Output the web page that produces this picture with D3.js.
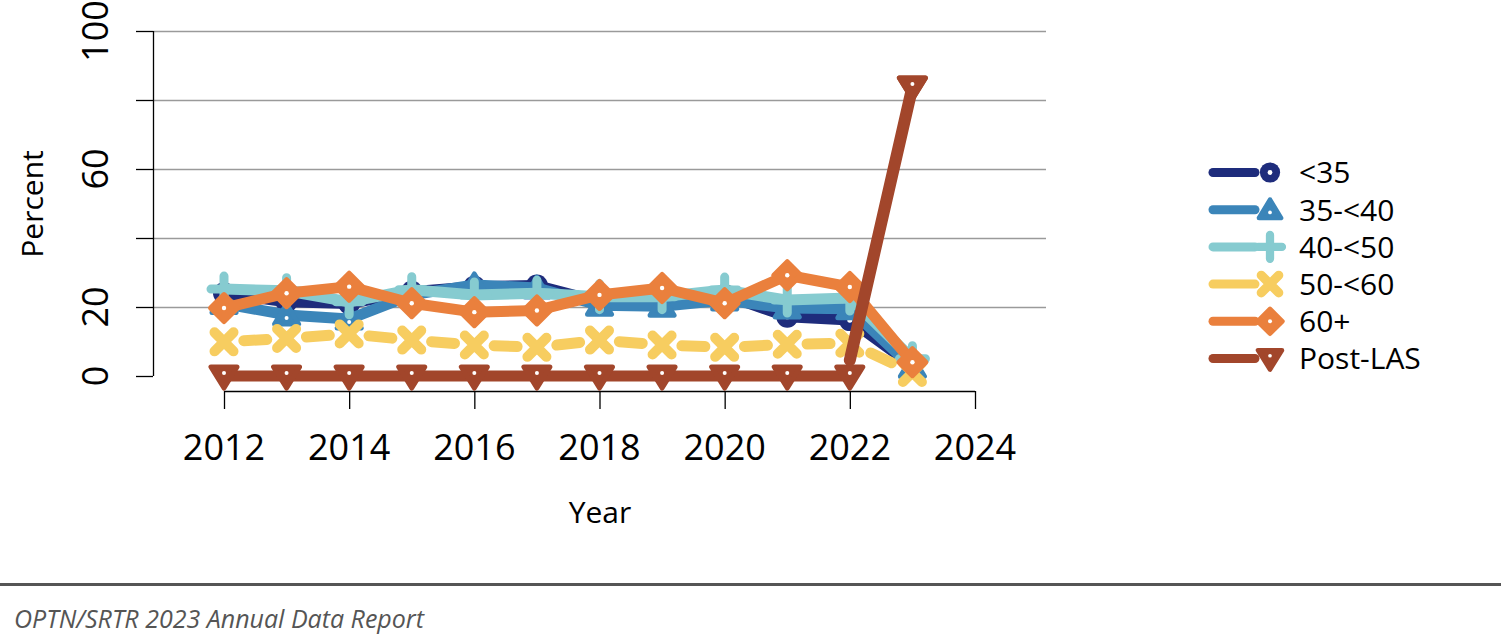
<!DOCTYPE html>
<html lang="en">
    <head>
        <meta charset="utf-8">
        <title>Lung ADR chart</title>
        <script type="text/javascript" src="https://cdn.jsdelivr.net/npm/d3@7/dist/d3.min.js"></script>
        <style>
            body { margin: 0; background: #fff; }
            text { font-family: "Open Sans", "Noto Sans", sans-serif; }
        </style>
    </head>
    <body>
        <script type="text/javascript">

        var w = 1501;
        var h = 634;

        // data
        var years = [2012, 2013, 2014, 2015, 2016, 2017, 2018, 2019, 2020, 2021, 2022, 2023];
        var lt35     = [24.0, 21.5, 21.0, 24.4, 25.9, 26.2, 21.5, 22.0, 23.5, 17.2, 16.2, 3.0];
        var r35to40  = [21.0, 17.7, 16.5, 23.5, 26.4, 25.5, 20.5, 20.2, 22.0, 19.7, 19.5, 2.5];
        var r40to50  = [25.2, 24.7, 21.5, 25.0, 23.5, 24.0, 23.0, 23.0, 24.9, 22.0, 22.6, 5.0];
        var r50to60  = [9.9, 10.9, 12.2, 10.4, 9.0, 8.3, 10.4, 9.0, 8.3, 9.2, 9.5, 1.0];
        var ge60     = [19.7, 24.0, 25.9, 21.1, 18.5, 19.0, 23.5, 25.5, 21.1, 29.2, 25.8, 4.0];
        var postLas  = [0, 0, 0, 0, 0, 0, 0, 0, 0, 0, 0, 83.8];
        var postLasLink = [[2022, 4.6], [2023, 83.8]];

        var seriesNames = ["<35", "35-<40", "40-<50", "50-<60", "60+", "Post-LAS"];
        var xTicks = [2012, 2014, 2016, 2018, 2020, 2022, 2024];
        var yTicks = [0, 20, 40, 60, 80, 100];
        var yTickLabels = [0, 20, 60, 100];

        var colors = ["#1e2c7c", "#3b85b9", "#86cbd0", "#f7cd60", "#ea803d", "#a2462b"];
        var shapes = ["circle", "triUp", "plus", "cross", "diamond", "triDown"];
        var allValues = [lt35, r35to40, r40to50, r50to60, ge60, postLas];

        var x = d3.scaleLinear().domain([2012, 2024]).range([224, 975]);
        var y = d3.scaleLinear().domain([0, 100]).range([376, 31]);

        var svg = d3.select("body")
            .append("svg")
            .attr("width", w)
            .attr("height", h);

        // grid
        svg.selectAll("line.grid")
           .data(yTicks.filter(function(d) { return d > 0; }))
           .enter()
           .append("line")
           .attr("class", "grid")
           .attr("x1", 153).attr("x2", 1046)
           .attr("y1", function(d) { return y(d) + 0.5; })
           .attr("y2", function(d) { return y(d) + 0.5; })
           .attr("stroke", "#9a9a9a")
           .attr("stroke-width", 1.3);

        // y axis
        var yAxis = svg.append("g")
            .attr("transform", "translate(153,0)")
            .call(d3.axisLeft(y).tickValues(yTicks).tickSize(17).tickFormat(""));
        yAxis.select(".domain").attr("stroke", "#000").attr("stroke-width", 1.3)
            .attr("d", "M0.5," + y(100) + "V" + y(0));
        yAxis.selectAll(".tick line").attr("stroke", "#000").attr("stroke-width", 1.3);

        svg.selectAll("text.ylab")
           .data(yTickLabels)
           .enter()
           .append("text")
           .attr("class", "ylab")
           .attr("transform", function(d) { return "translate(108," + y(d) + ") rotate(-90)"; })
           .attr("text-anchor", "middle")
           .attr("font-size", "36px")
           .attr("fill", "#000")
           .text(function(d) { return d; });

        svg.append("text")
           .attr("transform", "translate(43,204) rotate(-90)")
           .attr("text-anchor", "middle")
           .attr("font-size", "30px")
           .text("Percent");

        // x axis
        var xAxis = svg.append("g")
            .attr("transform", "translate(0,391)")
            .call(d3.axisBottom(x).tickValues(xTicks).tickSize(18).tickFormat(""));
        xAxis.select(".domain").attr("stroke", "#000").attr("stroke-width", 1.3)
            .attr("d", "M" + x(2012) + ",0.5H" + x(2024));
        xAxis.selectAll(".tick line").attr("stroke", "#000").attr("stroke-width", 1.3);

        svg.selectAll("text.xlab")
           .data(xTicks)
           .enter()
           .append("text")
           .attr("class", "xlab")
           .attr("x", function(d) { return x(d); })
           .attr("y", 460)
           .attr("text-anchor", "middle")
           .attr("font-size", "36px")
           .text(function(d) { return d; });

        svg.append("text")
           .attr("x", 600)
           .attr("y", 523)
           .attr("text-anchor", "middle")
           .attr("font-size", "30px")
           .text("Year");

        // markers
        function drawMarker(g, shape, color, cx, cy, s) {
            var m = g.append("g").attr("transform", "translate(" + cx + "," + cy + ") scale(" + s + ")");
            if (shape == "circle") {
                m.append("circle").attr("r", 11).attr("fill", color);
                m.append("circle").attr("r", 2.6).attr("fill", "#fff");
            } else if (shape == "triUp") {
                m.append("path").attr("d", "M0,-11L12,9L-12,9Z")
                 .attr("fill", color).attr("stroke", color).attr("stroke-width", 5).attr("stroke-linejoin", "round");
                m.append("circle").attr("cy", 3).attr("r", 2).attr("fill", "#fff");
            } else if (shape == "plus") {
                m.append("path").attr("d", "M-13,0H13M0,-13V13")
                 .attr("stroke", color).attr("stroke-width", 9).attr("stroke-linecap", "round");
            } else if (shape == "cross") {
                m.append("path").attr("d", "M-9.5,-9.5L9.5,9.5M9.5,-9.5L-9.5,9.5")
                 .attr("stroke", color).attr("stroke-width", 10).attr("stroke-linecap", "round");
            } else if (shape == "diamond") {
                m.append("path").attr("d", "M0,-13.5L13.5,0L0,13.5L-13.5,0Z")
                 .attr("fill", color).attr("stroke", color).attr("stroke-width", 5).attr("stroke-linejoin", "round");
                m.append("circle").attr("r", 2.2).attr("fill", "#fff");
            } else {
                m.append("path").attr("d", "M-13,-9H13L0,12Z")
                 .attr("fill", color).attr("stroke", color).attr("stroke-width", 5).attr("stroke-linejoin", "round");
                m.append("circle").attr("cy", -3).attr("r", 2).attr("fill", "#fff");
            }
        }

        var line = d3.line()
            .x(function(d) { return x(d[0]); })
            .y(function(d) { return y(d[1]); });

        allValues.forEach(function(vals, i) {
            var pts = years.map(function(yr, j) { return [yr, vals[j]]; });
            var g = svg.append("g");
            if (i == 5) {
                pts = pts.slice(0, 11);
            }
            if (shapes[i] == "cross") {
                // dashed: one dash centred in each segment
                for (var k = 0; k < pts.length - 1; k++) {
                    var dx = x(pts[k + 1][0]) - x(pts[k][0]);
                    var dy = y(pts[k + 1][1]) - y(pts[k][1]);
                    var L = Math.sqrt(dx * dx + dy * dy);
                    var dash = 23;
                    g.append("path")
                     .attr("d", line([pts[k], pts[k + 1]]))
                     .attr("fill", "none")
                     .attr("stroke", colors[i])
                     .attr("stroke-width", 11)
                     .attr("stroke-linecap", "round")
                     .attr("stroke-dasharray", dash + " " + (L + 50))
                     .attr("stroke-dashoffset", -(L - dash) / 2);
                }
            } else {
                g.append("path")
                 .attr("d", line(pts))
                 .attr("fill", "none")
                 .attr("stroke", colors[i])
                 .attr("stroke-width", 11)
                 .attr("stroke-linejoin", "round")
                 .attr("stroke-linecap", "round");
            }
            years.forEach(function(yr, j) {
                drawMarker(g, shapes[i], colors[i], x(yr), y(vals[j]), 1);
            });
        });

        // Post-LAS jump in 2023
        svg.append("path")
           .attr("d", line(postLasLink))
           .attr("fill", "none")
           .attr("stroke", colors[5])
           .attr("stroke-width", 12)
           .attr("stroke-linecap", "round");
        drawMarker(svg, "triDown", colors[5], x(2023), y(83.8), 1);

        // legend
        var legend = svg.selectAll("g.leg")
            .data(seriesNames)
            .enter()
            .append("g")
            .attr("class", "leg")
            .attr("transform", function(d, i) { return "translate(0," + (172.5 + i * 37.2) + ")"; });

        legend.append("line")
              .attr("x1", 1213).attr("x2", 1255)
              .attr("y1", 0).attr("y2", 0)
              .attr("stroke", function(d, i) { return colors[i]; })
              .attr("stroke-width", 9)
              .attr("stroke-linecap", "round");

        legend.each(function(d, i) {
            drawMarker(d3.select(this), shapes[i], colors[i], 1270, 0, 0.92);
        });

        legend.append("text")
              .attr("x", 1299)
              .attr("y", 0)
              .attr("dy", "0.36em")
              .attr("font-size", "30px")
              .text(function(d) { return d; });

        // footer
        svg.append("line")
           .attr("x1", 0).attr("x2", w)
           .attr("y1", 584.5).attr("y2", 584.5)
           .attr("stroke", "#555")
           .attr("stroke-width", 3);

        svg.append("text")
           .attr("x", 14)
           .attr("y", 628)
           .attr("font-size", "25px")
           .attr("font-style", "italic")
           .attr("fill", "#555")
           .text("OPTN/SRTR 2023 Annual Data Report");
        </script>
    </body>
</html>
